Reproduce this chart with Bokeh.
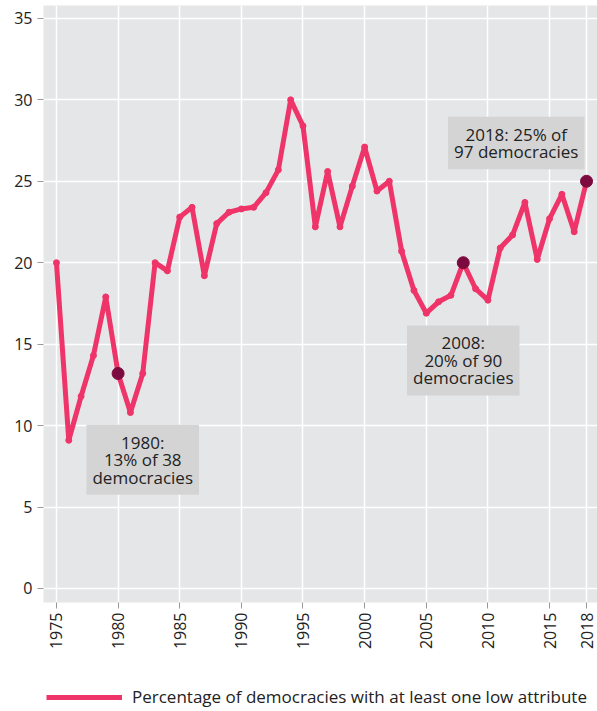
import math
from bokeh.plotting import figure
from bokeh.layouts import column
from bokeh.models import Label, Legend, LegendItem, FixedTicker, Range1d, ColumnDataSource
from bokeh.embed import file_html
from bokeh.resources import INLINE

years = list(range(1975, 2019))
pct_low = [20.0, 9.1, 11.8, 14.3, 17.9, 13.2, 10.8, 13.2, 20.0, 19.5,
           22.8, 23.4, 19.2, 22.4, 23.1, 23.3, 23.4, 24.3, 25.7, 30.0,
           28.4, 22.2, 25.6, 22.2, 24.7, 27.1, 24.4, 25.0, 20.7, 18.3,
           16.9, 17.6, 18.0, 20.0, 18.4, 17.7, 20.9, 21.7, 23.7, 20.2,
           22.7, 24.2, 21.9, 25.0]

hl_years = [1980, 2008, 2018]
hl_values = [13.2, 20.0, 25.0]

notes = ["1980:\n13% of 38\ndemocracies",
         "2008:\n20% of 90\ndemocracies",
         "2018: 25% of\n97 democracies"]
note_x = [1982.0, 2008.0, 2012.3]
note_y = [7.9, 14.0, 27.35]

x_ticks = [1975, 1980, 1985, 1990, 1995, 2000, 2005, 2010, 2015, 2018]
y_ticks = [0, 5, 10, 15, 20, 25, 30, 35]
legend_label = "Percentage of democracies with at least one low attribute"

LINE = "#ee3468"
DARK = "#7d0a3e"
FONT = "Open Sans"

p = figure(width=597, height=655, output_backend="svg", toolbar_location=None,
           x_range=Range1d(1973.95, 2018.89), y_range=Range1d(-0.86, 35.79),
           min_border_left=43, min_border_right=0, min_border_top=5,
           min_border_bottom=53)
p.background_fill_color = "#e5e6e8"
p.border_fill_color = "white"
p.outline_line_color = None

p.xgrid.ticker = FixedTicker(ticks=x_ticks)
p.ygrid.ticker = FixedTicker(ticks=y_ticks)
p.grid.grid_line_color = "white"
p.grid.grid_line_width = 1.5

p.xaxis.ticker = FixedTicker(ticks=x_ticks)
p.yaxis.ticker = FixedTicker(ticks=y_ticks)
for ax in (p.xaxis, p.yaxis):
    ax.axis_line_color = None
    ax.major_tick_line_color = "#999999"
    ax.major_tick_in = 0
    ax.major_tick_out = 6
    ax.minor_tick_line_color = None
    ax.major_label_text_font = FONT
    ax.major_label_text_font_size = "16px"
    ax.major_label_text_color = "#222222"
p.xaxis.major_label_orientation = math.pi / 2
p.xaxis.major_label_standoff = 4
p.yaxis.major_label_standoff = 5

src = ColumnDataSource(dict(x=years, y=pct_low))
p.line("x", "y", source=src, line_color=LINE, line_width=5, line_join="round")
p.scatter("x", "y", source=src, size=6, color=LINE)
p.scatter(hl_years, hl_values, size=12, color=DARK)

for t, xx, yy in zip(notes, note_x, note_y):
    p.add_layout(Label(x=xx, y=yy, text=t, text_align="center", text_baseline="middle",
                       text_font=FONT, text_font_size="17px", text_color="#222222",
                       text_line_height=0.76,
                       background_fill_color="#d4d4d4", padding=6))

# legend strip below the chart (its frame is aligned with the chart frame by the column)
lg = figure(width=597, height=56, output_backend="svg", toolbar_location=None,
            x_range=Range1d(0, 1), y_range=Range1d(0, 1),
            min_border_left=43, min_border_right=0, min_border_top=0, min_border_bottom=0)
lg.axis.visible = False
lg.grid.visible = False
lg.outline_line_color = None
lg.background_fill_color = "white"
# legend key renderer: the same series, lying outside this strip's ranges (not visible)
key = lg.line(years, pct_low, line_color=LINE, line_width=5)
legend = Legend(items=[LegendItem(label=legend_label, renderers=[key])],
                orientation="horizontal", location=(3, 3),
                glyph_width=76, glyph_height=20, label_standoff=10,
                label_text_font=FONT, label_text_font_size="17px", label_text_color="#222222",
                background_fill_alpha=0, border_line_color=None, margin=0, padding=0)
lg.add_layout(legend)

layout = column(p, lg, spacing=0)
open("out.html", "w").write(file_html(layout, INLINE))
